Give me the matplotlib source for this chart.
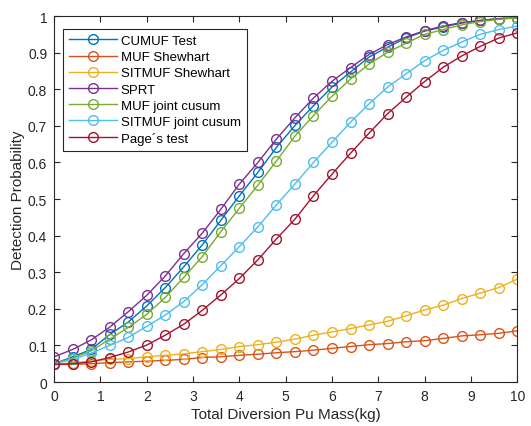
import numpy as np
import matplotlib
matplotlib.use("Agg")
import matplotlib.pyplot as plt

plt.rcParams['font.family'] = ['Liberation Sans', 'DejaVu Sans']

mass = [0, 0.4, 0.8, 1.2, 1.6, 2.0, 2.4, 2.8, 3.2, 3.6, 4.0, 4.4, 4.8,
        5.2, 5.6, 6.0, 6.4, 6.8, 7.2, 7.6, 8.0, 8.4, 8.8, 9.2, 9.6, 10.0]

cumuf = [0.050, 0.069, 0.089, 0.130, 0.164, 0.208, 0.258, 0.315, 0.375, 0.442, 0.509, 0.573, 0.641,
         0.701, 0.755, 0.806, 0.847, 0.888, 0.915, 0.940, 0.959, 0.970, 0.981, 0.988, 0.993, 0.995]
muf_shew = [0.048, 0.048, 0.050, 0.053, 0.055, 0.057, 0.059, 0.062, 0.067, 0.069, 0.073, 0.076, 0.080,
            0.083, 0.087, 0.092, 0.097, 0.102, 0.105, 0.110, 0.113, 0.119, 0.126, 0.129, 0.133, 0.140]
sitmuf_shew = [0.048, 0.053, 0.057, 0.062, 0.064, 0.069, 0.073, 0.077, 0.083, 0.089, 0.097, 0.102, 0.109,
               0.117, 0.128, 0.137, 0.146, 0.156, 0.166, 0.181, 0.197, 0.210, 0.228, 0.243, 0.258, 0.281]
sprt = [0.069, 0.089, 0.115, 0.150, 0.192, 0.237, 0.290, 0.351, 0.407, 0.472, 0.541, 0.600, 0.664,
        0.722, 0.776, 0.822, 0.859, 0.895, 0.922, 0.943, 0.960, 0.973, 0.982, 0.988, 0.993, 0.995]
muf_cusum = [0.050, 0.066, 0.085, 0.117, 0.149, 0.185, 0.231, 0.286, 0.343, 0.411, 0.475, 0.538, 0.604,
             0.672, 0.728, 0.781, 0.828, 0.869, 0.901, 0.926, 0.950, 0.963, 0.976, 0.985, 0.991, 0.995]
sitmuf_cusum = [0.050, 0.062, 0.079, 0.100, 0.122, 0.152, 0.183, 0.220, 0.266, 0.318, 0.370, 0.424, 0.484,
                0.541, 0.600, 0.655, 0.710, 0.760, 0.806, 0.842, 0.878, 0.906, 0.929, 0.950, 0.963, 0.973]
page = [0.048, 0.050, 0.055, 0.067, 0.082, 0.101, 0.128, 0.158, 0.196, 0.238, 0.283, 0.334, 0.391,
        0.445, 0.509, 0.568, 0.625, 0.680, 0.733, 0.778, 0.821, 0.860, 0.891, 0.917, 0.940, 0.954]

labels = ['CUMUF Test', 'MUF Shewhart', 'SITMUF Shewhart', 'SPRT',
          'MUF joint cusum', 'SITMUF joint cusum', 'Page\u00b4s test']
series = [cumuf, muf_shew, sitmuf_shew, sprt, muf_cusum, sitmuf_cusum, page]
colors = [(0, 0.447, 0.741), (0.85, 0.325, 0.098), (0.929, 0.694, 0.125),
          (0.494, 0.184, 0.556), (0.466, 0.674, 0.188), (0.301, 0.745, 0.933),
          (0.635, 0.078, 0.184)]

fig = plt.figure(figsize=(5.31, 4.27), dpi=100)
ax = fig.add_axes([0.102, 0.103, 0.872, 0.857])

for vals, lab, c in zip(series, labels, colors):
    ax.plot(mass, vals, '-o', color=c, label=lab, linewidth=1.0,
            markersize=7, markerfacecolor='none', markeredgewidth=1.0)

ax.set_xlim(0, 10)
ax.set_ylim(0, 1)
ax.set_xticks(range(0, 11))
yt = [0, 0.1, 0.2, 0.3, 0.4, 0.5, 0.6, 0.7, 0.8, 0.9, 1]
ax.set_yticks(yt)
ax.set_yticklabels(['0', '0.1', '0.2', '0.3', '0.4', '0.5', '0.6', '0.7', '0.8', '0.9', '1'])
axcol = (0.15, 0.15, 0.15)
for s in ax.spines.values():
    s.set_color(axcol)
    s.set_linewidth(0.8)
ax.tick_params(direction='in', top=True, right=True, colors=axcol, labelsize=10,
               length=4, width=0.8, pad=5)
ax.set_xlabel('Total Diversion Pu Mass(kg)', fontsize=11, color=axcol, labelpad=3)
ax.set_ylabel('Detection Probability', fontsize=11, color=axcol, labelpad=2)

leg = ax.legend(loc='upper left', bbox_to_anchor=(0.02, 0.965), fontsize=9.5,
                frameon=True, fancybox=False, handlelength=3.6, borderpad=0.45,
                labelspacing=0.3, handletextpad=0.3, borderaxespad=0.0)
leg.get_frame().set_edgecolor(axcol)
leg.get_frame().set_linewidth(0.8)
leg.get_frame().set_alpha(1)

fig.savefig('out.png', dpi=100)
